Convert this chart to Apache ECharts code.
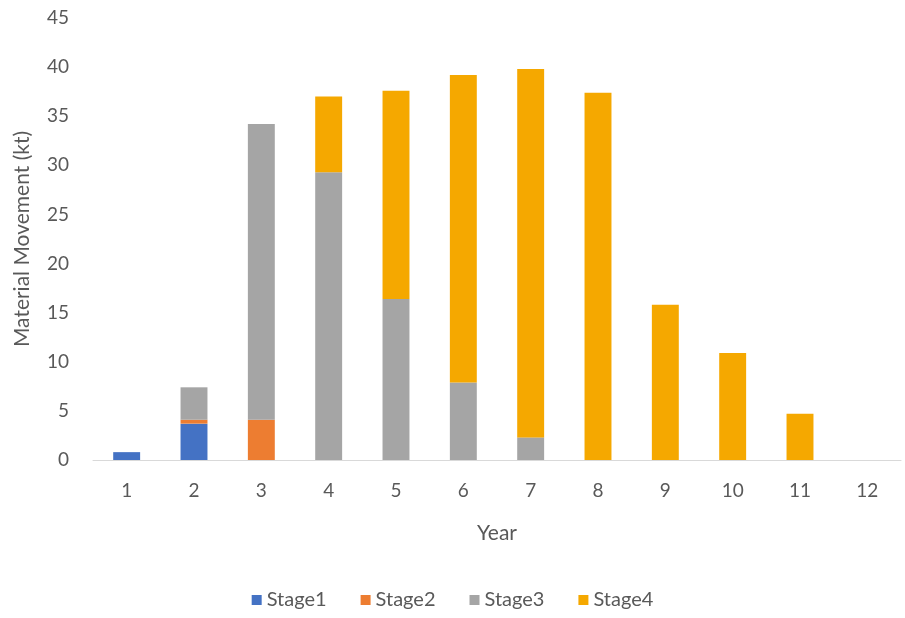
<!DOCTYPE html>
<html lang="en">
<head>
    <meta charset="UTF-8">
    <title>Material Movement</title>
    <script src="https://cdn.jsdelivr.net/npm/echarts@6/dist/echarts.min.js"></script>
    <style>
        html, body { margin: 0; padding: 0; background: #fff; }
        #main { width: 905px; height: 618px; }
    </style>
</head>
<body>
<div id="main"></div>
<script>
    // values (kt)
    var years = ['1', '2', '3', '4', '5', '6', '7', '8', '9', '10', '11', '12'];
    var stage1 = [0.8, 3.7, 0, 0, 0, 0, 0, 0, 0, 0, 0, 0];
    var stage2 = [0, 0.4, 4.1, 0, 0, 0, 0, 0, 0, 0, 0, 0];
    var stage3 = [0, 3.3, 30.1, 29.3, 16.4, 7.9, 2.3, 0, 0, 0, 0, 0];
    var stage4 = [0, 0, 0, 7.7, 21.2, 31.3, 37.5, 37.4, 15.8, 10.9, 4.7, 0];

    var font = 'Lato, "Open Sans", sans-serif';
    var grey = '#595959';

    function bar(name, data, color) {
        return {
            name: name,
            type: 'bar',
            stack: 'total',
            barCategoryGap: '60%',
            data: data,
            itemStyle: { color: color }
        };
    }

    var chart = echarts.init(document.getElementById('main'));
    chart.setOption({
        animation: false,
        textStyle: { fontFamily: font },
        grid: { left: 93, right: 4, top: 18, bottom: 158 },
        legend: {
            bottom: 3,
            left: 'center',
            itemWidth: 10,
            itemHeight: 10,
            itemGap: 34,
            icon: 'rect',
            textStyle: { color: grey, fontSize: 20, fontFamily: font },
            data: ['Stage1', 'Stage2', 'Stage3', 'Stage4']
        },
        xAxis: {
            type: 'category',
            data: years,
            name: 'Year',
            nameLocation: 'middle',
            nameGap: 63,
            nameTextStyle: { color: grey, fontSize: 21, fontFamily: font },
            axisLine: { lineStyle: { color: '#d9d9d9', width: 1 } },
            axisTick: { show: false },
            axisLabel: { color: grey, fontSize: 19, margin: 21 }
        },
        yAxis: {
            type: 'value',
            min: 0,
            max: 45,
            interval: 5,
            name: 'Material Movement (kt)',
            nameLocation: 'middle',
            nameGap: 60,
            nameTextStyle: { color: grey, fontSize: 21, fontFamily: font },
            axisLine: { show: false },
            axisTick: { show: false },
            splitLine: { show: false },
            axisLabel: { color: grey, fontSize: 19, margin: 24 }
        },
        series: [
            bar('Stage1', stage1, '#4472C4'),
            bar('Stage2', stage2, '#ED7D31'),
            bar('Stage3', stage3, '#A5A5A5'),
            bar('Stage4', stage4, '#F5A800')
        ]
    });
</script>
</body>
</html>
